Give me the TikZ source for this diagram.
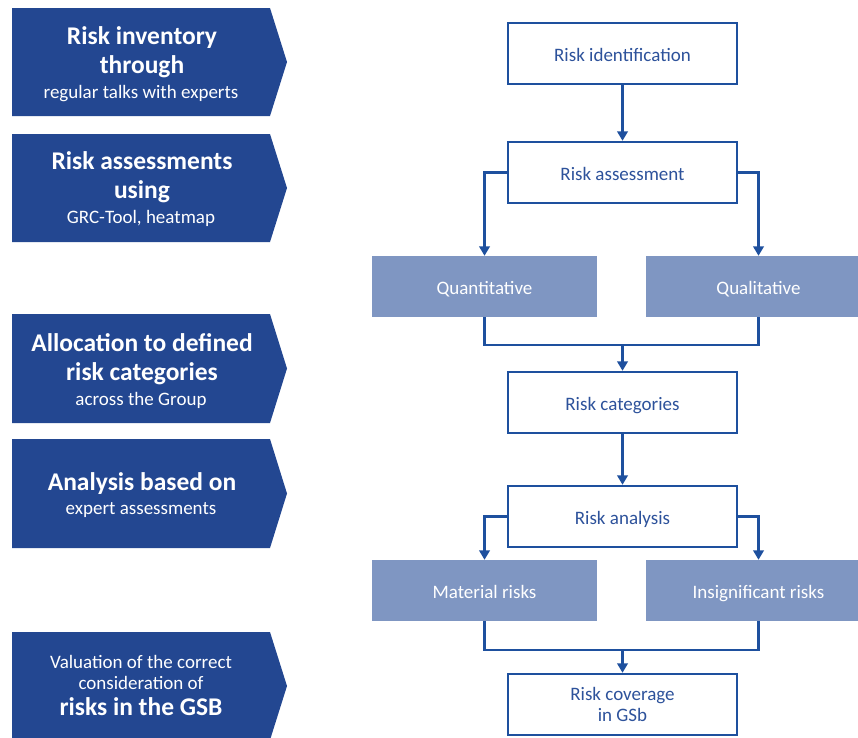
\documentclass[tikz,border=0pt]{standalone}
\usepackage{fontspec}
\setmainfont{Carlito}
\usetikzlibrary{arrows.meta}
\definecolor{chev}{RGB}{35,71,145}
\definecolor{lbox}{RGB}{127,150,194}
\definecolor{lblue}{RGB}{30,80,158}
\definecolor{tblue}{RGB}{45,82,155}
\begin{document}
\begin{tikzpicture}[x=1pt,y=-1pt,
  chevshape/.style={fill=chev},
  bigtxt/.style={font=\fontsize{25.5}{28}\selectfont\bfseries, text=white, anchor=mid, inner sep=0pt},
  smalltxt/.style={font=\fontsize{19}{22}\selectfont, text=white, anchor=mid, inner sep=0pt},
  wbase/.style={draw=lblue, line width=2.4pt, fill=white, minimum width=229pt, minimum height=61pt, inner sep=0pt, text=tblue, font=\fontsize{19}{21.5}\selectfont, align=center},
  wbox/.style={wbase, text height=16pt, text depth=0pt},
  lbx/.style={fill=lbox, minimum width=225pt, minimum height=61pt, inner sep=0pt, text=white, font=\fontsize{19}{21.5}\selectfont, text height=16pt, text depth=0pt},
  conn/.style={draw=lblue, line width=2.4pt},
  arr/.style={conn, -{Triangle[width=10.5pt,length=9.5pt]}}
]
\useasboundingbox (0,0) rectangle (858,737);
\clip (0,0) rectangle (858,737);

% chevrons
\path[chevshape] (12,8) -- (270,8) -- (287,62) -- (270,116) -- (12,116) -- cycle;
\path[chevshape] (12,134) -- (270,134) -- (287,188) -- (270,242) -- (12,242) -- cycle;
\path[chevshape] (12,314) -- (270,314) -- (287,368.5) -- (270,423) -- (12,423) -- cycle;
\path[chevshape] (12,439) -- (270,439) -- (287,493.5) -- (270,548) -- (12,548) -- cycle;
\path[chevshape] (12,632) -- (270,632) -- (287,686) -- (270,740) -- (12,740) -- cycle;

\node[bigtxt] (c1a) at (142,42) {Risk inventory};
\node[bigtxt] (c1b) at (142,71.5) {through};
\node[smalltxt] (c1c) at (141,96.5) {regular talks with experts};

\node[bigtxt] (c2a) at (142,167) {Risk assessments};
\node[bigtxt] (c2b) at (142,196.5) {using};
\node[smalltxt] (c2c) at (141,221) {GRC-Tool, heatmap};

\node[bigtxt] (c3a) at (142,349) {Allocation to defined};
\node[bigtxt] (c3b) at (142,378.5) {risk categories};
\node[smalltxt] (c3c) at (141,403) {across the Group};

\node[bigtxt] (c4a) at (142,488.5) {Analysis based on};
\node[smalltxt] (c4b) at (141,512.5) {expert assessments};

\node[smalltxt] (c5a) at (141,666) {Valuation of the correct};
\node[smalltxt] (c5b) at (141,687.5) {consideration of};
\node[bigtxt] (c5c) at (141,713) {risks in the GSB};

% flow boxes
\node[wbox] (ident) at (622.5,53.5) {Risk identification};
\node[wbox] (assess) at (622.5,172.5) {Risk assessment};
\node[lbx] (quant) at (484.5,286.5) {Quantitative};
\node[lbx] (qual) at (758.5,286.5) {Qualitative};
\node[wbox] (cat) at (622.5,402.5) {Risk categories};
\node[wbox] (anal) at (622.5,516.5) {Risk analysis};
\node[lbx] (mat) at (484.5,590.5) {Material risks};
\node[lbx] (insig) at (758.5,590.5) {Insignificant risks};
\node[wbase] (cover) at (622.5,704.5) {Risk coverage\\in GSb};

\coordinate (m1) at (622.5,345);
\coordinate (m2) at (622.5,650);

\draw[arr] (ident) -- (assess);
\draw[arr] (assess.west) -| (quant.north);
\draw[arr] (assess.east) -| (qual.north);
\draw[conn] (quant.south) |- (m1) -| (qual.south);
\draw[arr] (m1) -- (cat.north);
\draw[arr] (cat) -- (anal);
\draw[arr] (anal.west) -| (mat.north);
\draw[arr] (anal.east) -| (insig.north);
\draw[conn] (mat.south) |- (m2) -| (insig.south);
\draw[arr] (m2) -- (cover.north);
\end{tikzpicture}
\end{document}
